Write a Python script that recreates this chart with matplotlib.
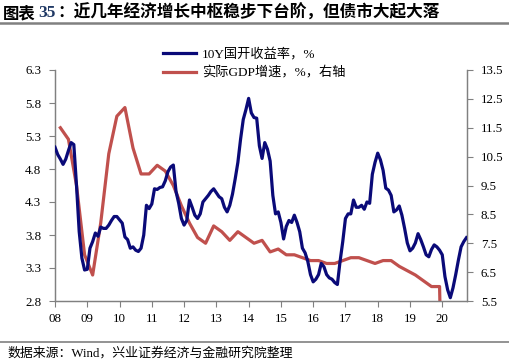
import numpy as np
import matplotlib
matplotlib.use("Agg")
import matplotlib.pyplot as plt
from matplotlib.lines import Line2D

plt.rcParams['font.family'] = ['Liberation Serif', 'Noto Sans CJK SC']

# 10Y CDB yield, monthly from Jan 2008 to Oct 2020 (%)
cdb_10y = [
    5.13, 5.02, 4.95, 4.87, 4.95, 5.08, 5.20, 5.17, 4.55, 3.85, 3.45, 3.27,
    3.28, 3.60, 3.70, 3.83, 3.78, 3.92, 3.90, 3.90, 3.95, 4.02, 4.08, 4.08,
    4.03, 3.98, 3.77, 3.73, 3.60, 3.62, 3.57, 3.55, 3.60, 3.80, 4.25, 4.20,
    4.27, 4.50, 4.49, 4.52, 4.53, 4.62, 4.76, 4.83, 4.86, 4.46, 4.28, 4.05,
    3.95, 4.02, 4.33, 4.22, 4.10, 4.05, 4.12, 4.30, 4.35, 4.40, 4.46, 4.50,
    4.44, 4.38, 4.35, 4.22, 4.15, 4.25, 4.42, 4.65, 4.90, 5.25, 5.55, 5.70,
    5.87, 5.65, 5.58, 5.57, 5.15, 4.96, 5.20, 5.10, 4.92, 4.40, 4.12, 4.15,
    3.99, 3.74, 3.93, 4.02, 3.99, 4.10, 3.99, 3.85, 3.60, 3.53, 3.40, 3.20,
    3.09, 3.13, 3.20, 3.37, 3.32, 3.20, 3.15, 3.13, 3.08, 3.05, 3.40, 3.70,
    4.05, 4.12, 4.12, 4.33, 4.22, 4.22, 4.25, 4.19, 4.30, 4.28, 4.72, 4.90,
    5.04, 4.94, 4.78, 4.51, 4.48, 4.40, 4.15, 4.18, 4.24, 4.10, 3.90, 3.68,
    3.56, 3.60, 3.68, 3.82, 3.73, 3.62, 3.50, 3.47, 3.58, 3.65, 3.62, 3.57,
    3.50, 3.17, 2.97, 2.85, 3.00, 3.20, 3.42, 3.62, 3.70, 3.76,
]

# real GDP growth, quarterly 2008Q1 - 2020Q1 (%)
gdp_real = [
    11.5, 11.1, 9.5, 7.1,
    6.4, 8.2, 10.6, 11.9,
    12.2, 10.8, 9.9, 9.9,
    10.2, 10.0, 9.5, 8.8,
    8.2, 7.7, 7.5, 8.1,
    7.9, 7.6, 7.9, 7.7,
    7.5, 7.6, 7.2, 7.3,
    7.1, 7.1, 7.0, 6.9,
    6.9, 6.8, 6.8, 6.9,
    7.0, 7.0, 6.9, 6.8,
    6.9, 6.9, 6.7, 6.55,
    6.4, 6.2, 6.0, 6.0,
    -6.8,
]

year_labels = ["08", "09", "10", "11", "12", "13", "14", "15", "16", "17", "18", "19", "20"]

blue = "#0A0A78"
red = "#C0504D"
grey = "#808080"

m_cdb = np.arange(len(cdb_10y))
m_gdp = np.arange(len(gdp_real)) * 3 + 2  # quarter-end month

fig = plt.figure(figsize=(5.09, 3.64), dpi=100)
ax = fig.add_axes([55 / 509, 1 - 301 / 364, 412 / 509, 231 / 364])
ax2 = ax.twinx()

ax.plot(m_cdb, cdb_10y, color=blue, lw=2.3, zorder=3)
ax2.plot(m_gdp, gdp_real, color=red, lw=2.3, zorder=2)
ax.set_zorder(ax2.get_zorder() + 1)
ax.patch.set_visible(False)

ax.set_xlim(0, 153.2)
ax.set_ylim(2.8, 6.3)
ax2.set_ylim(5.5, 13.5)
ax.set_yticks(np.arange(2.8, 6.31, 0.5))
ax.set_yticklabels([f"{v:.1f}" for v in np.arange(2.8, 6.31, 0.5)])
ax2.set_yticks(np.arange(5.5, 13.51, 1.0))
ax2.set_yticklabels([f"{v:.1f}" for v in np.arange(5.5, 13.51, 1.0)])
ax.set_xticks(np.arange(len(year_labels)) * 12)
ax.set_xticklabels(year_labels)

for a in (ax, ax2):
    a.spines['top'].set_visible(False)
    for s in ('left', 'right', 'bottom'):
        a.spines[s].set_color(grey)
        a.spines[s].set_linewidth(0.9)
    a.tick_params(colors=grey, labelcolor="black", labelsize=9.3, length=4, width=0.8)
ax.tick_params(axis='y', pad=6)
ax2.tick_params(axis='y', pad=6)
ax.tick_params(axis='x', pad=5)

handles = [Line2D([], [], color=blue, lw=2.3), Line2D([], [], color=red, lw=2.3)]
fig.legend(handles, ["10Y国开收益率，%", "实际GDP增速，%，右轴"],
           loc='upper left', bbox_to_anchor=(158 / 509, 1 - 42 / 364),
           frameon=False, fontsize=9.5, handlelength=2.5, handletextpad=0.4,
           labelspacing=0.45, borderaxespad=0)

# header and footer
fig.text(3 / 509, 1 - 13 / 364, "图表", fontsize=11.8, fontweight='bold',
         family=['Noto Sans CJK SC'], va='center', ha='left')
fig.text(38 / 509, 1 - 13 / 364, "35", fontsize=12.5, fontweight='bold',
         color="#1F3864", family=['Liberation Serif'], va='center', ha='left')
fig.text(57 / 509, 1 - 13 / 364, "：近几年经济增长中枢稳步下台阶，但债市大起大落",
         fontsize=12, fontweight='bold', family=['Noto Sans CJK SC'],
         va='center', ha='left')
fig.add_artist(Line2D([0, 1], [1 - 23 / 364, 1 - 23 / 364], color=grey, lw=1.8,
                      transform=fig.transFigure))
fig.add_artist(Line2D([0, 1], [1 - 342 / 364, 1 - 342 / 364], color=grey, lw=1.2,
                      transform=fig.transFigure))
fig.text(7 / 509, 1 - 353 / 364, "数据来源：Wind，兴业证券经济与金融研究院整理",
         fontsize=9.3, va='center', ha='left')

fig.savefig("out.png", dpi=100)
